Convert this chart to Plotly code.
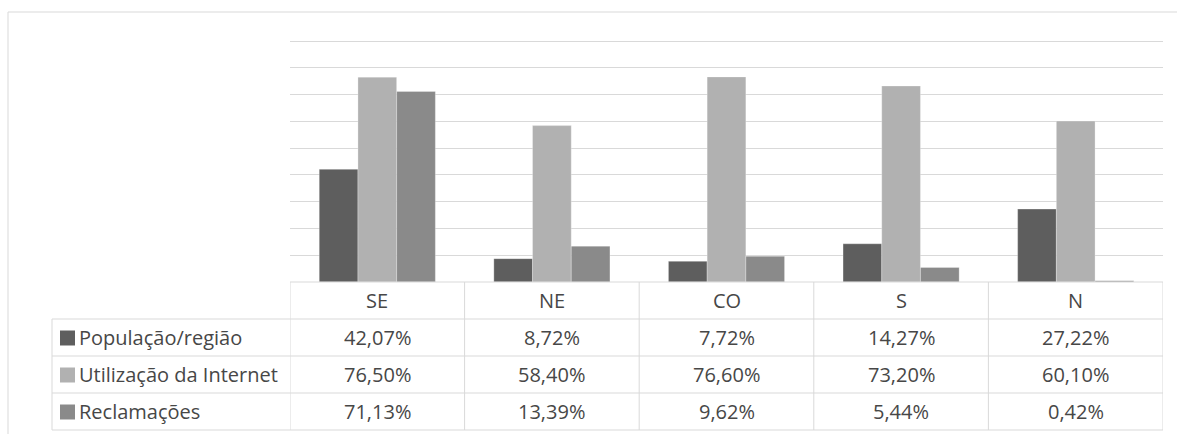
import plotly.graph_objects as go

# Data
regions = ["SE", "NE", "CO", "S", "N"]
populacao = [42.07, 8.72, 7.72, 14.27, 27.22]
internet = [76.50, 58.40, 76.60, 73.20, 60.10]
reclamacoes = [71.13, 13.39, 9.62, 5.44, 0.42]
series_names = ["População/região", "Utilização da Internet", "Reclamações"]

series_values = [populacao, internet, reclamacoes]
colors = ["#5e5e5e", "#b1b1b1", "#8a8a8a"]

W, H = 1177, 434
FONT = "Open Sans"
TEXT_COLOR = "#474747"
LINE_COLOR = "#d9d9d9"


def px(x):
    return x / W


def py(y):
    return 1 - y / H


# Layout positions in pixels
plot_left, plot_right = 290, 1163
plot_top, plot_bottom = 41, 282
row_edges = [282, 319, 356, 393, 430]
label_left = 52

y_max = 90
y_pad = 2  # headroom so the top gridline is not clipped at the edge
top_px = plot_bottom - (plot_bottom - plot_top) * (y_max + y_pad) / y_max

fig = go.Figure()
for name, vals, col in zip(series_names, series_values, colors):
    fig.add_trace(go.Bar(
        x=regions, y=vals, name=name,
        marker=dict(color=col, line=dict(color="rgba(255,255,255,0.35)", width=0.8)),
        hoverinfo="x+y+name",
    ))

shapes = []
line = dict(color=LINE_COLOR, width=1)

# outer frame (top and left edges)
shapes.append(dict(type="line", xref="paper", yref="paper",
                   x0=px(8), x1=1, y0=py(12), y1=py(12), line=line))
shapes.append(dict(type="line", xref="paper", yref="paper",
                   x0=px(8), x1=px(8), y0=py(12), y1=0, line=line))

# table: header top edge (chart baseline)
shapes.append(dict(type="line", xref="x", yref="paper",
                   x0=-0.5, x1=len(regions) - 0.5,
                   y0=py(row_edges[0]), y1=py(row_edges[0]), line=line))
# table: series rows
for yy in row_edges[1:]:
    shapes.append(dict(type="line", xref="paper", yref="paper",
                       x0=px(label_left), x1=px(plot_right),
                       y0=py(yy), y1=py(yy), line=line))
# table: column separators
for i in range(len(regions) + 1):
    shapes.append(dict(type="line", xref="x", yref="paper",
                       x0=i - 0.5, x1=i - 0.5,
                       y0=py(row_edges[0]), y1=py(row_edges[-1]), line=line))
shapes.append(dict(type="line", xref="paper", yref="paper",
                   x0=px(label_left), x1=px(label_left),
                   y0=py(row_edges[1]), y1=py(row_edges[-1]), line=line))

annotations = []
font = dict(family=FONT, size=20, color=TEXT_COLOR)

# header row: region names
hc = (row_edges[0] + row_edges[1]) / 2
for r in regions:
    annotations.append(dict(x=r, y=py(hc), xref="x", yref="paper", text=r,
                            showarrow=False, font=font,
                            xanchor="center", yanchor="middle"))

# value rows with legend keys
key = 15
for k, (name, vals, col) in enumerate(zip(series_names, series_values, colors)):
    c = (row_edges[k + 1] + row_edges[k + 2]) / 2
    shapes.append(dict(type="rect", xref="paper", yref="paper",
                       x0=px(60), x1=px(60 + key),
                       y0=py(c - key / 2 + 0.5), y1=py(c + key / 2 + 0.5),
                       fillcolor=col, line=dict(width=0)))
    annotations.append(dict(x=px(77), y=py(c), xref="paper", yref="paper",
                            text=name, showarrow=False, font=font,
                            xanchor="left", yanchor="middle"))
    for r, v in zip(regions, vals):
        annotations.append(dict(x=r, y=py(c), xref="x", yref="paper",
                                text=f"{v:.2f}%".replace(".", ","),
                                showarrow=False, font=font,
                                xanchor="center", yanchor="middle"))

fig.update_layout(
    width=W, height=H,
    margin=dict(l=0, r=0, t=0, b=0),
    paper_bgcolor="white", plot_bgcolor="white",
    barmode="group", bargap=0.335, bargroupgap=0,
    showlegend=False,
    xaxis=dict(domain=[px(plot_left), px(plot_right)], range=[-0.5, len(regions) - 0.5],
               showgrid=False, showticklabels=False, zeroline=False, showline=False,
               fixedrange=True),
    yaxis=dict(domain=[py(plot_bottom), py(top_px)], range=[0, y_max + y_pad],
               tickmode="linear", tick0=0, dtick=10,
               showgrid=True, gridcolor=LINE_COLOR, gridwidth=1,
               showticklabels=False, zeroline=False, showline=False, fixedrange=True),
    shapes=shapes,
    annotations=annotations,
)

fig.write_html("out.html")
